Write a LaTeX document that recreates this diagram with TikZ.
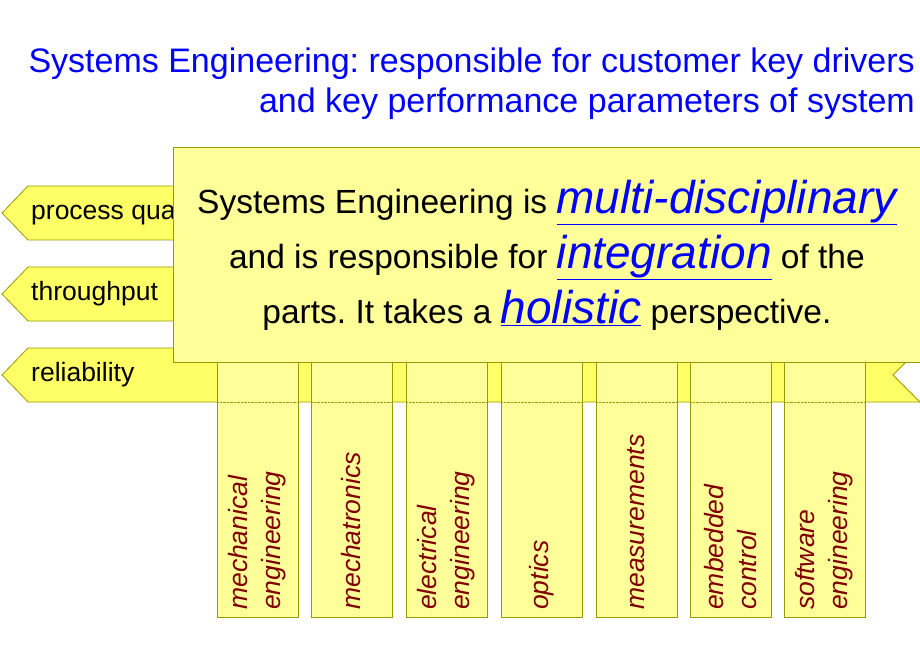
\documentclass[tikz,border=0pt]{standalone}
\usepackage{fontspec}
\setmainfont{Liberation Sans}
\frenchspacing
\definecolor{bandyellow}{HTML}{FFFF66}
\definecolor{paleyellow}{HTML}{FFFF99}
\definecolor{edgeolive}{HTML}{999900}
\definecolor{titleblue}{HTML}{0000FF}
\definecolor{discred}{HTML}{800000}
\tikzset{
  band/.style={fill=bandyellow,draw=edgeolive,line width=0.8pt},
  disc/.style={fill=paleyellow,draw=edgeolive,line width=0.8pt},
  disclabel/.style={rotate=90,anchor=west,align=left,inner sep=0pt,
    text=discred,font=\fontsize{26.5}{33}\selectfont\itshape},
  bandlabel/.style={anchor=west,inner sep=0pt,font=\fontsize{26.5}{28}\selectfont}
}
\newcommand{\keyword}[1]{{\color{titleblue}$\underline{\hbox{\fontsize{46}{48}\selectfont\itshape #1}}$}}
\begin{document}
\begin{tikzpicture}[x=1pt,y=-1pt]
\useasboundingbox (0,0) rectangle (920,660);

% title
\node[anchor=north east,align=right,text=titleblue,inner sep=0pt,
  font=\fontsize{34}{40}\selectfont] (title) at (915,48)
  {Systems Engineering: responsible for customer key drivers\\
   and key performance parameters of system};

% key driver bands
\foreach \y/\txt/\nm in {186/process quality/pq,267/throughput/tp,348/reliability/rel}{
  \draw[band] (2,\y+27) -- (28,\y) -- (920,\y) -- (893,\y+27) -- (920,\y+54)
    -- (28,\y+54) -- cycle;
  \node[bandlabel] (\nm) at (31,\y+27) {\txt};
}

% disciplines
\foreach \x/\txt/\nm in {
  217/mechanical\\engineering/mech,
  311/mechatronics/mtr,
  406/electrical\\engineering/elec,
  501/optics/opt,
  596/measurements/meas,
  690/embedded\\control/emb,
  784/software\\engineering/sw}{
  \draw[disc] (\x,180) rectangle (\x+81,617);
  \draw[edgeolive,densely dotted] (\x,402) -- (\x+81,402);
  \node[disclabel] (\nm) at (\x+40.5,610) {\txt};
}

% statement box
\node[disc,draw,minimum width=747pt,minimum height=215pt,anchor=north west,
  inner sep=0pt] (box) at (173,147) {};
\node[align=center,font=\fontsize{33.5}{55}\selectfont] (statement) at (box.center)
  {Systems Engineering is \keyword{multi-disciplinary}\\
   and is responsible for \keyword{integration} of the\\
   parts. It takes a \keyword{holistic} perspective.};
\end{tikzpicture}
\end{document}
